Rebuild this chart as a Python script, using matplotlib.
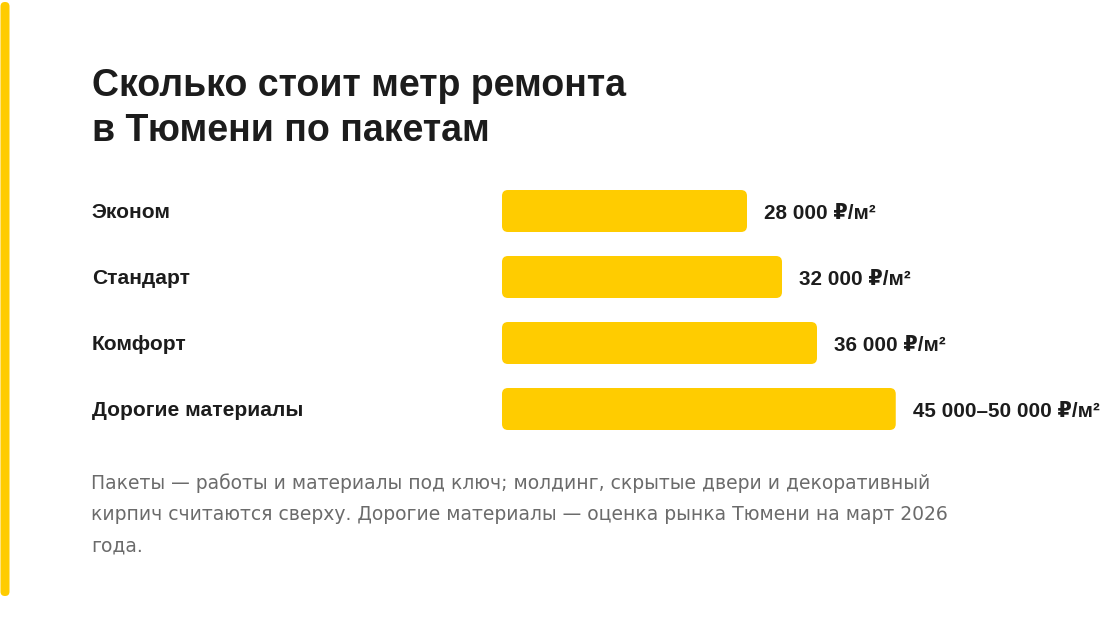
import matplotlib.pyplot as plt
from matplotlib.patches import FancyBboxPatch
from matplotlib.transforms import blended_transform_factory

plt.rcParams['font.family'] = ['Liberation Sans', 'DejaVu Sans']

# data
categories = ["Эконом", "Стандарт", "Комфорт", "Дорогие материалы"]
values = [28000, 32000, 36000, 45000]
value_labels = ["28 000 ₽/м²", "32 000 ₽/м²", "36 000 ₽/м²", "45 000–50 000 ₽/м²"]
title_lines = ["Сколько стоит метр ремонта", "в Тюмени по пакетам"]
note_lines = [
    "Пакеты — работы и материалы под ключ; молдинг, скрытые двери и декоративный",
    "кирпич считаются сверху. Дорогие материалы — оценка рынка Тюмени на март 2026",
    "года.",
]

YELLOW = "#FFCC00"
DARK = "#1c1c1c"
GREY = "#6b6b6b"

W, H = 1100, 638
fig = plt.figure(figsize=(W / 100, H / 100), dpi=100)
fig.patch.set_facecolor("white")

# left accent stripe
stripe = FancyBboxPatch((0.5 / W, 1 - 596 / H), 9 / W, 594 / H,
                        boxstyle="round,pad=0,rounding_size=0.004",
                        mutation_aspect=W / H,
                        transform=fig.transFigure, facecolor=YELLOW,
                        edgecolor="none")
fig.patches.append(stripe)

# title
fig.text(92 / W, 1 - 96 / H, title_lines[0], fontsize=27, fontweight="bold",
         color=DARK, va="baseline", ha="left")
fig.text(92 / W, 1 - 141 / H, title_lines[1], fontsize=27, fontweight="bold",
         color=DARK, va="baseline", ha="left")

# bar axes: pixel scale 8.75 px per 1000
px_per_unit = 8.75 / 1000
ax_left, ax_right = 502, 1100
ax_top, ax_bot = 170, 440
row_px = 66
ax = fig.add_axes([ax_left / W, 1 - ax_bot / H, (ax_right - ax_left) / W,
                   (ax_bot - ax_top) / H])
ax.set_xlim(0, (ax_right - ax_left) / px_per_unit)
ax.set_ylim(3 + (ax_bot - 409) / row_px, -(211 - ax_top) / row_px)
ax.axis("off")

bar_h = 42 / row_px
x_per_px = 1 / px_per_unit
y_per_px = 1 / row_px
r = 6 * x_per_px
for i, v in enumerate(values):
    p = FancyBboxPatch((0, i - bar_h / 2), v, bar_h,
                       boxstyle=f"round,pad=0,rounding_size={r}",
                       mutation_aspect=y_per_px / x_per_px,
                       facecolor=YELLOW, edgecolor="none")
    ax.add_patch(p)
    ax.annotate(value_labels[i], (v, i), xytext=(17 * 0.72, -1.5),
                textcoords="offset points", va="center", ha="left",
                fontsize=14.9, fontweight="bold", color=DARK)

trans = blended_transform_factory(fig.transFigure, ax.transData)
for i, c in enumerate(categories):
    ax.text(92 / W, i + 0.02, c, transform=trans, fontsize=15.1,
            fontweight="bold", color=DARK, va="center", ha="left")

# footnote
for j, line in enumerate(note_lines):
    fig.text(91 / W, 1 - (483 + j * 31.5) / H, line, fontsize=13.5,
             family="DejaVu Sans", color=GREY, va="center", ha="left")

fig.savefig("out.png", dpi=100, facecolor="white")
